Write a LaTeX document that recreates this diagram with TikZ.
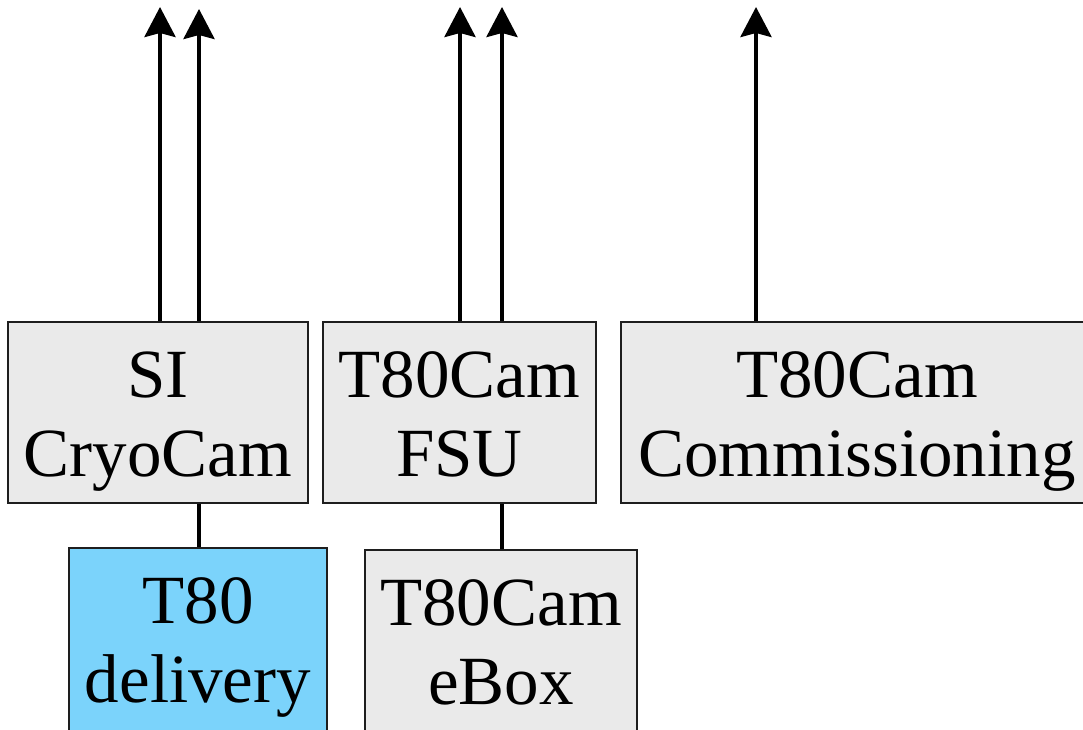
\documentclass[tikz,border=0pt]{standalone}
\usepackage{fontspec}
\setmainfont{Liberation Serif}
\usetikzlibrary{arrows.meta}
\definecolor{boxgrey}{HTML}{EAEAEA}
\definecolor{boxblue}{HTML}{7BD3FB}
\definecolor{edge}{HTML}{1E1E1E}
\newcommand{\twolines}[2]{\begin{tabular}[t]{@{}c@{}}#1\\#2\end{tabular}}
\begin{document}
\begin{tikzpicture}[x=1pt,y=1pt,
  box/.style={draw=edge, line width=1.8pt, fill=boxgrey, rectangle,
    minimum height=181pt, inner xsep=0pt, inner ysep=0pt,
    text height=75pt, text depth=106pt,
    font=\fontsize{69}{79}\selectfont},
  lowbox/.style={box, text depth=110pt},
  arr/.style={line width=4pt, -{Stealth[length=30pt,width=31pt,inset=4pt]}},
  conn/.style={line width=4pt}]
\useasboundingbox (0,0) rectangle (1083,729);
\fill[white] (0,0) rectangle (1083,729);
% boxes
\node[box, minimum width=300pt] (b1) at (158,316.5) {\twolines{SI}{CryoCam}};
\node[box, minimum width=273pt] (b2) at (459.5,316.5) {\twolines{T80Cam}{FSU}};
\node[box, minimum width=472pt] (b3) at (857,316.5) {\twolines{T80Cam}{Commissioning}};
\node[lowbox, fill=boxblue, minimum width=258pt] (b4) at (198,88.5) {\twolines{T80}{delivery}};
\node[lowbox, minimum width=272pt] (b5) at (501,86.5) {\twolines{T80Cam}{eBox}};
% arrow tips
\coordinate (t1) at (160,722);
\coordinate (t2) at (199,720);
\coordinate (t3) at (460,722);
\coordinate (t4) at (502,722);
\coordinate (t5) at (756,722);
\draw[arr] (b1.north -| t1) -- (t1);
\draw[arr] (b1.north -| t2) -- (t2);
\draw[arr] (b2.north -| t3) -- (t3);
\draw[arr] (b2.north -| t4) -- (t4);
\draw[arr] (b3.north -| t5) -- (t5);
% connectors
\draw[conn] (b1.south -| t2) -- (b4.north -| t2);
\draw[conn] (b2.south -| t4) -- (b5.north -| t4);
\end{tikzpicture}
\end{document}
